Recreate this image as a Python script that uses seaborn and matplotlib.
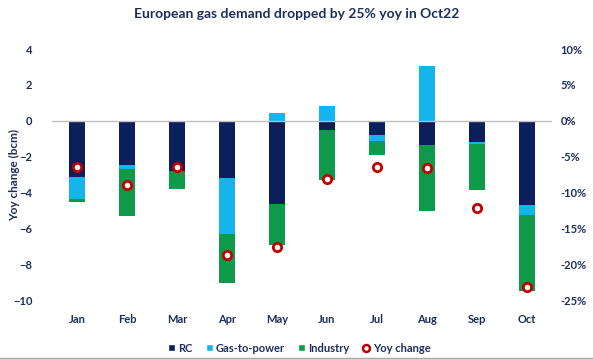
import numpy as np
import pandas as pd
import seaborn as sns
import matplotlib.pyplot as plt
from matplotlib.patches import Patch
from matplotlib.lines import Line2D
from matplotlib.ticker import FuncFormatter

sns.set_theme(style="white")
plt.rcParams['font.family'] = ['Lato', 'DejaVu Sans']

# values (bcm and % yoy)
months = ['Jan', 'Feb', 'Mar', 'Apr', 'May', 'Jun', 'Jul', 'Aug', 'Sep', 'Oct']
rc = [-3.15, -2.49, -2.83, -3.2, -4.65, -0.5, -0.78, -1.34, -1.21, -4.68]
gas_to_power = [-1.2, -0.2, 0.0, -3.1, 0.43, 0.8, -0.37, 3.07, -0.1, -0.56]
industry = [-0.2, -2.6, -1.0, -2.75, -2.27, -2.79, -0.78, -3.68, -2.58, -4.28]
yoy_pct = [-6.5, -9.0, -6.5, -18.7, -17.6, -8.1, -6.4, -6.6, -12.1, -23.2]

NAVY = '#0B1F5C'
LIGHT = '#16B4EC'
GREEN = '#0E9A48'
RED = '#C00000'
TXT = '#1F2D5A'

g2p = np.array(gas_to_power)
df = pd.DataFrame({
    'month': months,
    'rc': rc,
    'g2p_neg': np.array(rc) + np.minimum(g2p, 0),
    'total_neg': np.array(rc) + np.minimum(g2p, 0) + np.array(industry),
    'g2p_pos': np.maximum(g2p, 0),
    'yoy': yoy_pct,
})

fig = plt.figure(figsize=(5.93, 3.59), dpi=100)
ax = fig.add_axes([0.0877, 0.1643, 0.8432, 0.6992])

# stacked look: draw cumulative levels, deepest first
w = 0.32
sns.barplot(data=df, x='month', y='total_neg', order=months, color=GREEN,
            width=w, saturation=1, ax=ax, linewidth=0)
sns.barplot(data=df, x='month', y='g2p_neg', order=months, color=LIGHT,
            width=w, saturation=1, ax=ax, linewidth=0)
sns.barplot(data=df, x='month', y='rc', order=months, color=NAVY,
            width=w, saturation=1, ax=ax, linewidth=0)
sns.barplot(data=df, x='month', y='g2p_pos', order=months, color=LIGHT,
            width=w, saturation=1, ax=ax, linewidth=0)

ax.axhline(0, color='#BFBFBF', linewidth=1, zorder=1)
ax.set_ylim(-10, 4)
ax.set_xlim(-0.5, 9.5)
ax.set_yticks(np.arange(-10, 5, 2))
ax.set_xlabel('')
ax.set_ylabel('Yoy change (bcm)', fontsize=8.5, fontweight='bold', color=TXT)
ax.yaxis.set_label_coords(-0.064, 0.5)
ax.tick_params(axis='both', length=0, labelsize=8, labelcolor=TXT)
ax.tick_params(axis='x', pad=10)
ax.tick_params(axis='y', pad=14)
for lab in ax.get_xticklabels() + ax.get_yticklabels():
    lab.set_fontweight('bold')
sns.despine(ax=ax, left=True, bottom=True)

ax2 = ax.twinx()
sns.pointplot(data=df, x='month', y='yoy', order=months, ax=ax2,
              linestyle='none', marker='o', color=RED, errorbar=None,
              markersize=6, markerfacecolor='white', markeredgewidth=2)
ax2.set_ylim(-25, 10)
ax2.set_xlim(-0.5, 9.5)
ax2.set_yticks(np.arange(-25, 11, 5))
ax2.yaxis.set_major_formatter(FuncFormatter(lambda v, p: f'{v:.0f}%'))
ax2.set_ylabel('')
ax2.tick_params(axis='y', length=0, labelsize=8, labelcolor=TXT, pad=6)
for lab in ax2.get_yticklabels():
    lab.set_fontweight('bold')
sns.despine(ax=ax2, left=True, bottom=True, right=True)

fig.text(0.5, 1 - 14 / 359, 'European gas demand dropped by 25% yoy in Oct22',
         ha='center', va='center', fontsize=10, fontweight='bold', color=TXT)

handles = [
    Patch(facecolor=NAVY, label='RC'),
    Patch(facecolor=LIGHT, label='Gas-to-power'),
    Patch(facecolor=GREEN, label='Industry'),
    Line2D([], [], linestyle='none', marker='o', markersize=5,
           markerfacecolor='white', markeredgecolor=RED, markeredgewidth=1.8,
           label='Yoy change'),
]
fig.legend(handles=handles, loc='center', bbox_to_anchor=(0.505, 1 - 348 / 359),
           ncol=4, frameon=False, handlelength=0.6, handleheight=0.6,
           handletextpad=0.3, columnspacing=1.2,
           prop={'size': 8, 'weight': 'bold'}, labelcolor=TXT)

fig.add_artist(Line2D([0, 1], [0.004, 0.004], color='#A6A6A6', linewidth=1))

fig.savefig('out.png', dpi=100)
